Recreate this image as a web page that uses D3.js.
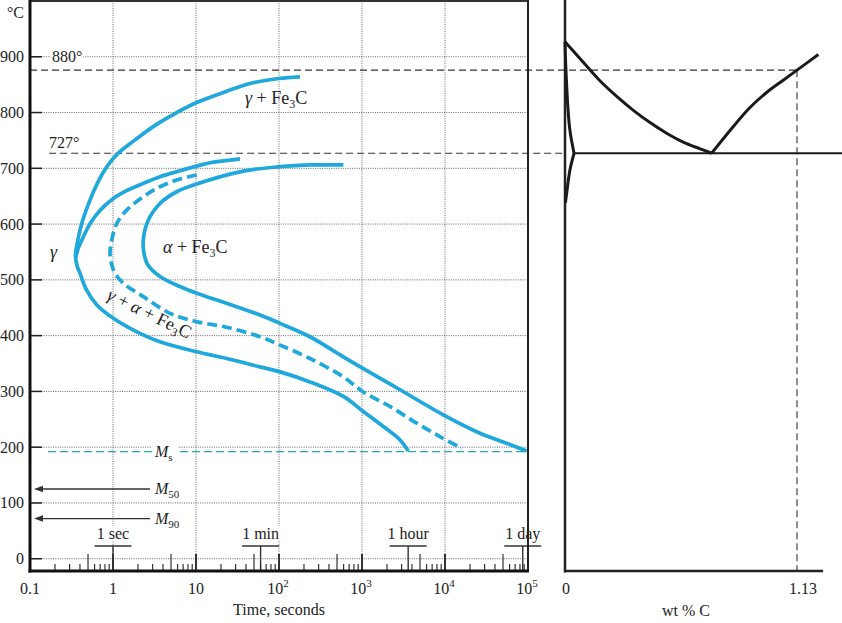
<!DOCTYPE html>
<html><head><meta charset="utf-8">
<script src="https://cdn.jsdelivr.net/npm/d3@7"></script>
<style>
body{margin:0;background:#fff}
svg{display:block}
text{font-family:"Liberation Serif","Times New Roman",serif;fill:#222}
</style>
</head><body>
<svg id="c" width="842" height="623"></svg>
<script>
// ---------- data ----------
const tempTicks = [0,100,200,300,400,500,600,700,800,900];
const decadeValues = [0.1,1,10,100,1000,10000,100000];
const decadeBase = ["0.1","1","10","10","10","10","10"];
const decadeExp  = ["","","","2","3","4","5"];
const gridTimes = [1,10,100,1000,10000];
const markerTimes = [1,60,3600,86400];
const markerLabels = ["1 sec","1 min","1 hour","1 day"];

const upperTemp = 876;      // line labelled 880°
const eutectoidTemp = 727;
const msTemp = 192, m50Temp = 125, m90Temp = 72;
const carbon = 1.13;

// TTT curves [time s, temp °C]
const startOuter = [[179,864],[100,861],[44.8,852],[22.3,837],[10.2,818],[5.85,800],[3.21,777],[1.84,751],[1.21,730],[0.946,713],[0.758,692],[0.624,668],[0.528,643],[0.42,601],[0.368,563],[0.353,543],[0.37,525],[0.40,512],[0.48,482],[0.64,455],[1.01,431],[1.76,410],[3.68,389],[10.2,371],[23.4,359],[59,344],[103,335],[236,317],[596,291],[1037,264],[1807,237],[2871,213],[3614,193]];
const startPearlite = [[33.9,717],[14.8,710],[10.2,704],[5.85,694],[3.68,685],[2.32,673],[1.46,660],[1.01,646],[0.70,625],[0.53,601],[0.44,577],[0.38,556],[0.357,541]];
const halfway = [[10.2,688],[5.85,679],[3.68,667],[2.32,649],[1.46,625],[1.11,601],[0.965,571],[0.92,547],[0.965,527],[1.06,512],[1.33,494],[2.32,470],[4.86,440],[10.2,425],[23.4,415],[59,398],[103,383],[236,359],[596,326],[1037,299],[2173,273],[4560,243],[8710,219],[15890,198]];
const finish = [[596,706],[236,706],[103,703],[37.2,695],[10.2,672],[5.85,658],[3.68,637],[2.66,607],[2.32,573],[2.35,550],[2.6,528],[3.68,506],[6.41,488],[10.2,476],[23.4,458],[59,437],[103,422],[236,398],[596,362],[1037,341],[2871,303],[9550,258],[26400,225],[55300,207],[96400,193]];

// phase diagram [wt % C, temp °C]
const a3Line = [[0,927],[0.089,890],[0.170,857],[0.252,829],[0.333,804],[0.414,782],[0.495,763],[0.576,747],[0.658,735],[0.714,727]];
const acmLine = [[0.714,727],[0.820,775],[0.901,809],[0.982,836],[1.063,858],[1.13,876],[1.234,904]];
const ferriteUpper = [[0,927],[0.003,890],[0.008,850],[0.014,810],[0.024,768],[0.044,727]];
const ferriteLower = [[0.044,727],[0.024,697],[0.010,661],[0.002,638]];
const eutectoidLine = [[0.044,727],[1.35,727]];

// ---------- scales ----------
const svg = d3.select("#c");
const xT = d3.scaleLog().domain([0.1,1e5]).range([30,528]);
const y  = d3.scaleLinear().domain([-22,1000]).range([571,1]);
const xC = d3.scaleLinear().domain([0,1.13]).range([565,797]);
const blue = "#1ea8dc", ink = "#222";

// ---------- grid ----------
const grid = svg.append("g").attr("stroke","#666").attr("stroke-width",1).attr("stroke-dasharray","1,1.3");
grid.selectAll("line.h").data(tempTicks).join("line").attr("class","h")
  .attr("x1",xT(0.1)).attr("x2",xT(1e5)).attr("y1",d=>y(d)).attr("y2",d=>y(d));
grid.selectAll("line.v").data(gridTimes).join("line").attr("class","v")
  .attr("x1",d=>xT(d)).attr("x2",d=>xT(d)).attr("y1",y(1000)).attr("y2",y(-22));
const bg = svg.append("g");

// y ticks (inside) and labels
svg.append("g").selectAll("line").data(tempTicks).join("line")
  .attr("x1",xT(0.1)).attr("x2",xT(0.1)+12).attr("y1",d=>y(d)).attr("y2",d=>y(d))
  .attr("stroke",ink).attr("stroke-width",1.5);
svg.append("g").selectAll("text").data(tempTicks).join("text")
  .attr("x",24).attr("y",d=>y(d)).attr("dy","0.34em").attr("text-anchor","end")
  .attr("font-size",16).text(d=>d);
svg.append("text").attr("x",24).attr("y",18).attr("text-anchor","end").attr("font-size",16).text("°C");

// ---------- reference dashed lines ----------
const dash = svg.append("g").attr("stroke","#333").attr("stroke-width",1.1).attr("stroke-dasharray","7,4").attr("fill","none");
dash.append("line").attr("x1",xT(0.1)).attr("x2",xC(carbon)).attr("y1",y(upperTemp)).attr("y2",y(upperTemp));
dash.append("line").attr("x1",xT(0.17)).attr("x2",xC(0)).attr("y1",y(eutectoidTemp)).attr("y2",y(eutectoidTemp));
dash.append("line").attr("x1",xC(carbon)).attr("x2",xC(carbon)).attr("y1",y(upperTemp)).attr("y2",y(-22));

function withBg(tx){
  const bb = tx.node().getBBox();
  bg.append("rect").attr("x",bb.x-1).attr("y",bb.y+1).attr("width",bb.width+2).attr("height",bb.height-2).attr("fill","#fff");
  return tx;
}
// labels 880° 727°
withBg(svg.append("text").attr("x",52).attr("y",y(900)+5).attr("font-size",16).text("880°"));
svg.append("text").attr("x",49).attr("y",y(eutectoidTemp)-5).attr("font-size",16).text("727°");

// ---------- Ms / M50 / M90 ----------
svg.append("line").attr("x1",xT(0.165)).attr("x2",xT(1e5)).attr("y1",y(msTemp)).attr("y2",y(msTemp))
  .attr("stroke","#2aa7bf").attr("stroke-width",1.3).attr("stroke-dasharray","8,4");
svg.append("rect").attr("x",152).attr("y",y(msTemp)-9).attr("width",26).attr("height",17).attr("fill","#fff");
const ms = svg.append("text").attr("x",155).attr("y",y(msTemp)+5).attr("font-size",16);
ms.append("tspan").attr("font-style","italic").text("M");
ms.append("tspan").attr("font-size",11).attr("dy",4).text("s");

[[m50Temp,"50"],[m90Temp,"90"]].forEach(([t,s])=>{
  const yy = y(t);
  svg.append("line").attr("x1",xT(0.1)+12).attr("x2",150).attr("y1",yy).attr("y2",yy).attr("stroke","#333").attr("stroke-width",1.3);
  svg.append("path").attr("d",`M${xT(0.1)+4},${yy}L${xT(0.1)+13},${yy-3.2}L${xT(0.1)+13},${yy+3.2}Z`).attr("fill","#333");
  const tx = svg.append("text").attr("x",155).attr("y",yy+5).attr("font-size",16);
  tx.append("tspan").attr("font-style","italic").text("M");
  tx.append("tspan").attr("font-size",11).attr("dy",4).text(s);
});

// ---------- TTT curves ----------
const lineT = d3.line().x(d=>xT(d[0])).y(d=>y(d[1])).curve(d3.curveCatmullRom.alpha(0.5));
const curves = svg.append("g").attr("fill","none").attr("stroke",blue).attr("stroke-width",3.7).attr("stroke-linecap","butt");
curves.append("path").attr("d",lineT(startOuter));
curves.append("path").attr("d",lineT(startPearlite));
curves.append("path").attr("d",lineT(finish));
curves.append("path").attr("d",lineT(halfway)).attr("stroke-dasharray","10,5");

// region labels
function phaseLabel(g, parts){
  parts.forEach(p=>{
    const ts = g.append("tspan").text(p.t);
    if(p.i) ts.attr("font-style","italic");
    if(p.sub) ts.attr("font-size",12).attr("dy",4);
    if(p.up) ts.attr("dy",-4);
  });
}
phaseLabel(svg.append("text").attr("x",245).attr("y",104).attr("font-size",18),
  [{t:"γ",i:1},{t:" + Fe"},{t:"3",sub:1},{t:"C",up:1}]);
phaseLabel(svg.append("text").attr("x",163).attr("y",253).attr("font-size",18),
  [{t:"α",i:1},{t:" + Fe"},{t:"3",sub:1},{t:"C",up:1}]);
svg.append("text").attr("x",50).attr("y",258).attr("font-size",18).attr("font-style","italic").text("γ");
phaseLabel(svg.append("text").attr("transform","translate(106,299) rotate(26)").attr("font-size",18),
  [{t:"γ",i:1},{t:" + "},{t:"α",i:1},{t:" + Fe"},{t:"3",sub:1},{t:"C",up:1}]);

// ---------- bottom time axis ticks ----------
const minor = [];
decadeValues.slice(0,-1).forEach(d=>{ for(let m=2;m<=9;m++) minor.push([d*m,m]); });
const ticks = svg.append("g").attr("stroke","#333");
ticks.selectAll("line.m").data(minor).join("line").attr("class","m")
  .attr("x1",d=>xT(d[0])).attr("x2",d=>xT(d[0])).attr("y1",571).attr("y2",d=>d[1]===5?554:564)
  .attr("stroke-width",1.2);
ticks.selectAll("line.d").data(decadeValues.slice(1,-1)).join("line").attr("class","d")
  .attr("x1",d=>xT(d)).attr("x2",d=>xT(d)).attr("y1",571).attr("y2",554).attr("stroke-width",2);

// time markers
markerTimes.forEach((t,i)=>{
  const x = xT(t);
  svg.append("line").attr("x1",x).attr("x2",x).attr("y1",546).attr("y2",571).attr("stroke","#333").attr("stroke-width",1.4);
  svg.append("line").attr("x1",x-18.5).attr("x2",x+18.5).attr("y1",546).attr("y2",546).attr("stroke","#333").attr("stroke-width",1.3);
  withBg(svg.append("text").attr("x",x).attr("y",539).attr("text-anchor","middle").attr("font-size",16).text(markerLabels[i]));
});

// decade labels
decadeValues.forEach((v,i)=>{
  const tx = svg.append("text").attr("x",xT(v)+(decadeExp[i]?-1:0)).attr("y",594).attr("text-anchor","middle").attr("font-size",16);
  tx.append("tspan").text(decadeBase[i]);
  if(decadeExp[i]) tx.append("tspan").attr("font-size",11).attr("dy",-7).text(decadeExp[i]);
});
svg.append("text").attr("x",279).attr("y",615).attr("text-anchor","middle").attr("font-size",16).text("Time, seconds");

// ---------- left frame ----------
svg.append("line").attr("x1",xT(0.1)).attr("x2",xT(1e5)).attr("y1",1).attr("y2",1).attr("stroke","#333").attr("stroke-width",2);
svg.append("line").attr("x1",xT(1e5)).attr("x2",xT(1e5)).attr("y1",0).attr("y2",572).attr("stroke","#222").attr("stroke-width",2);
svg.append("line").attr("x1",xT(0.1)).attr("x2",xT(0.1)).attr("y1",0).attr("y2",572.5).attr("stroke","#111").attr("stroke-width",3);
svg.append("line").attr("x1",xT(0.1)-1.5).attr("x2",xT(1e5)+1).attr("y1",571).attr("y2",571).attr("stroke","#111").attr("stroke-width",3);

// ---------- right panel ----------
svg.append("line").attr("x1",xC(0)).attr("x2",xC(0)).attr("y1",0).attr("y2",572.5).attr("stroke","#222").attr("stroke-width",2.5);
svg.append("line").attr("x1",xC(0)-1).attr("x2",xC(1.257)).attr("y1",571).attr("y2",571).attr("stroke","#222").attr("stroke-width",2.5);
const lineC = d3.line().x(d=>xC(d[0])).y(d=>y(d[1])).curve(d3.curveCatmullRom.alpha(0.5));
const pd = svg.append("g").attr("fill","none").attr("stroke","#1a1a1a").attr("stroke-width",3).attr("stroke-linejoin","round");
pd.append("path").attr("d",lineC(a3Line));
pd.append("path").attr("d",lineC(acmLine));
pd.append("path").attr("d",lineC(ferriteUpper));
pd.append("path").attr("d",lineC(ferriteLower));
pd.append("path").attr("d",d3.line().x(d=>xC(d[0])).y(d=>y(d[1]))(eutectoidLine)).attr("stroke-width",1.8);

svg.append("text").attr("x",xC(0)+1).attr("y",594).attr("text-anchor","middle").attr("font-size",16).text("0");
svg.append("text").attr("x",xC(carbon)+6).attr("y",594).attr("text-anchor","middle").attr("font-size",16).text(carbon.toFixed(2));
svg.append("text").attr("x",686).attr("y",616).attr("text-anchor","middle").attr("font-size",16).text("wt % C");
</script>
</body></html>
